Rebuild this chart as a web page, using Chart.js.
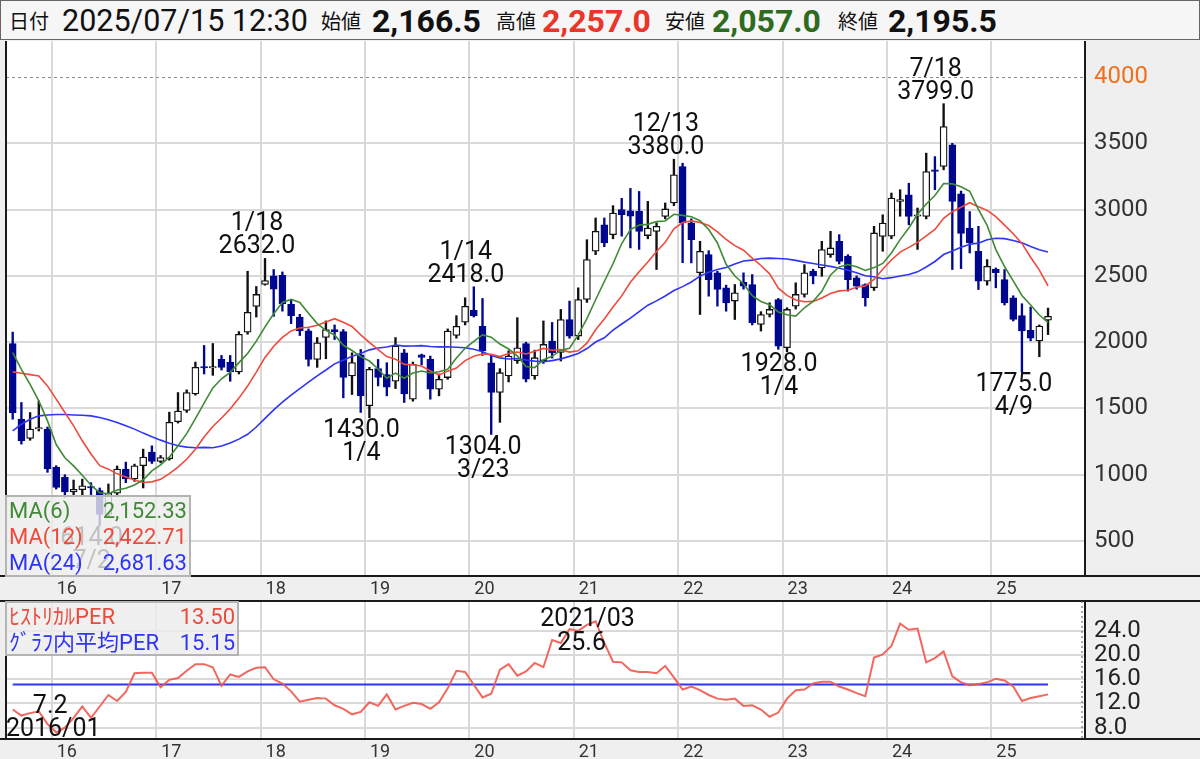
<!DOCTYPE html>
<html lang="ja"><head><meta charset="utf-8">
<script src="https://cdn.jsdelivr.net/npm/chart.js@4.4.1/dist/chart.umd.min.js"></script>
<style>
html,body{margin:0;padding:0;}
body{width:1200px;height:759px;position:relative;overflow:hidden;background:#efefef;font-family:Roboto,"Noto Sans CJK JP",sans-serif;color:#111;}
#hdr{position:absolute;left:0;top:0;width:1198px;height:38px;background:#f6f6f6;border:1px solid #666;}
#hdr span{position:absolute;top:1px;line-height:38px;white-space:nowrap;}
.lb{font-family:"Noto Sans CJK JP",sans-serif;font-size:20px;}
.nm{font-size:30.5px;}
.nb{font-size:32px;font-weight:bold;}
canvas{position:absolute;left:0;}
#main{top:40px;}
#sub{top:600px;}
.ann{position:absolute;width:160px;text-align:center;font-size:25px;line-height:23px;color:#111;white-space:nowrap;}
.lg{position:absolute;background:rgba(236,236,236,0.8);border:2px solid #b4b4b4;box-sizing:border-box;}
.row{position:absolute;left:0;right:0;height:27px;line-height:27px;font-size:22px;white-space:nowrap;}
.row .k{position:absolute;left:2px;}
.row .v{position:absolute;right:2px;}
</style></head>
<body>
<div id="hdr"></div>
<canvas id="main" width="1200" height="561"></canvas>
<canvas id="sub" width="1200" height="159"></canvas>
<script>
// ---- data (monthly candles, 2015/08 .. 2025/07) ----
const startYear = 2015, startMonth = 8;
const opens = [1989,1419,1274,1345,1344,1056,980,870,887,905,
 880,700,860,1043,968,1068,1170,1100,1120,1400,
 1485,1610,1810,1805,1870,1850,1775,2075,2270,2435,
 2500,2505,2285,2190,2085,1870,2035,2095,2080,1745,
 1905,1520,1800,1755,1705,1920,1570,1905,1870,1645,
 1733,2050,2150,2240,2120,1845,1620,1745,1860,1990,
 1745,1860,2009,1923,2171,2046,2322,2686,2886,2811,
 3000,2990,2987,2804,2836,2949,3050,3325,2900,2523,
 2661,2523,2410,2310,2452,2435,2134,2209,2322,1958,
 2272,2360,2535,2560,2661,2761,2648,2485,2435,2410,
 2798,2800,3062,3112,2950,2949,3300,3325,3488,3120,
 2861,2685,2460,2550,2472,2335,2200,2090,2009,2166.5];
const highs = [2076,1545,1469,1557,1360,1068,1000,960,967,940,
 900,930,1066,1095,1080,1193,1218,1145,1472,1620,
 1640,1850,1975,1990,1900,1900,2080,2535,2420,2632,
 2548,2530,2320,2210,2100,2035,2160,2130,2095,1920,
 1945,1810,1870,1845,2035,1945,1850,1910,1895,1760,
 2100,2200,2335,2418,2330,1900,1800,1935,2185,2000,
 1940,2160,2149,2247,2310,2410,2773,2937,2937,3030,
 3085,3160,3137,3062,2900,3050,3380,3350,2930,2761,
 2690,2535,2430,2435,2523,2510,2230,2297,2330,2260,
 2448,2585,2550,2761,2836,2811,2660,2500,2440,2874,
 2961,3125,3150,3199,3012,3426,3400,3799,3500,3140,
 2985,2874,2623,2560,2548,2350,2290,2265,2130,2257];
const lows = [1419,1231,1260,1330,1018,892,830,850,840,850,
 614,690,850,940,950,900,1085,1090,1110,1390,
 1470,1600,1760,1750,1790,1705,1760,2060,2190,2430,
 2195,2234,2140,2050,1820,1810,1875,2020,1580,1605,
 1470,1430,1670,1595,1650,1545,1555,1830,1570,1595,
 1720,2030,2130,2190,1900,1304,1395,1700,1840,1700,
 1720,1840,1880,1858,2030,2020,2300,2660,2720,2780,
 2800,2711,2700,2780,2548,2930,3030,2600,2598,2209,
 2347,2272,2234,2171,2400,2130,2084,2190,1946,1928,
 2250,2340,2440,2497,2640,2590,2385,2400,2272,2390,
 2686,2780,2950,2886,2700,2930,3150,3300,2548,2555,
 2673,2397,2430,2410,2280,2160,1775,2010,1890,2057];
const closes = [1469,1256,1344,1350,1043,905,870,890,917,900,
 700,860,1043,968,1068,1133,1100,1130,1396,1481,
 1620,1810,1805,1815,1810,1775,2060,2225,2360,2465,
 2400,2290,2200,2085,1870,1995,2095,2080,1735,1846,
 1595,1795,1735,1660,1970,1610,1833,1885,1645,1720,
 2084,2120,2270,2200,1935,1620,1770,1895,1958,1720,
 1883,1983,1921,2171,2046,2322,2623,2836,2749,2974,
 2962,2950,2836,2861,2874,3005,3263,2900,2773,2685,
 2472,2397,2297,2372,2422,2147,2209,2247,1970,2247,
 2360,2523,2500,2698,2711,2610,2472,2422,2335,2824,
 2899,3087,3075,2949,2955,3287,3288,3626,3062,2820,
 2749,2460,2573,2525,2297,2171,2085,2030,2121,2195.5];
// moving-average values before a full window exists
const ma6Head  = [1921,1795,1682,1557,1406];
const ma12Head = [1776,1765,1755,1745,1670,1570,1469,1369,1256,1156,1068];
const ma24Head = [1331,1381,1419,1444,1451,1454,1454,1451,1449,1444,1432,1414,1394,1369,1344,1314,1286,1261,1238,1218,1208,1203,1206];
const per = [11.0,10.0,10.4,10.7,8.6,7.2,8.0,9.6,11.5,9.6,
 11.5,13.4,12.4,13.9,17.0,17.1,17.1,14.7,15.9,16.2,
 17.4,18.5,18.5,18.0,14.9,16.8,16.4,17.3,17.9,18.0,
 16.0,15.3,14.0,12.3,12.6,12.9,12.8,11.7,11.1,10.2,
 10.6,12.2,11.6,13.5,11.0,11.6,12.1,11.9,11.1,12.2,
 14.5,17.4,17.2,15.1,13.0,13.6,17.6,18.5,16.6,17.3,
 18.7,18.0,22.5,22.0,24.3,24.0,25.0,25.6,22.0,18.9,
 18.8,17.5,17.2,17.2,17.0,18.2,16.3,14.3,14.8,14.2,
 13.4,12.8,12.6,12.8,11.6,11.7,11.0,9.8,10.5,12.8,
 14.2,14.3,15.3,15.6,15.6,14.8,14.3,13.7,13.2,19.6,
 20.1,21.5,25.2,24.2,24.4,18.8,19.5,20.6,16.5,15.5,
 15.0,15.2,15.5,16.1,15.8,14.8,12.4,12.9,13.2,13.5];
const perAvg = 15.15;
const yearLabels = ['16','17','18','19','20','21','22','23','24','25'];
const priceTicks = [500,1000,1500,2000,2500,3000,3500,4000];
const perTicks = [8,12,16,20,24];
const priceMarks = [
  {i:10, kind:'low', date:'7/2'},
  {i:29, kind:'high', date:'1/18'},
  {i:41, kind:'low', date:'1/4'},
  {i:53, kind:'high', date:'1/14'},
  {i:55, kind:'low', date:'3/23'},
  {i:76, kind:'high', date:'12/13'},
  {i:89, kind:'low', date:'1/4'},
  {i:107, kind:'high', date:'7/18'},
  {i:116, kind:'low', date:'4/9'}];
const perMarks = [{i:67, kind:'max', date:'2021/03'}, {i:5, kind:'min', date:'2016/01'}];
const maLegend = [['MA(6)','2,152.33'],['MA(12)','2,422.71'],['MA(24)','2,681.63']];
const perLegend = [['ﾋｽﾄﾘｶﾙPER','13.50'],['ｸﾞﾗﾌ内平均PER','15.15']];

// ---- derived ----
function movingAvg(n, head){
  return closes.map((c,i)=>{
    if (i < n-1) return head[i];
    let s=0; for(let k=i-n+1;k<=i;k++) s+=closes[k];
    return s/n;
  });
}
const ma6 = movingAvg(6, ma6Head), ma12 = movingAvg(12, ma12Head), ma24 = movingAvg(24, ma24Head);
const firstJan = (12 - startMonth + 1) % 12; // index of first January
const GREEN='#3f8a35', RED='#ee4a3c', BLUE='#2f35f5', NAVY='#00078f';
const isUp = i => closes[i] >= opens[i];
const fmt1 = v => v.toLocaleString('en-US',{minimumFractionDigits:1,maximumFractionDigits:1});

// header
const last = closes.length-1;
const hdrItems = [
  ['lb',8,'日付',null],['nm',61,'2025/07/15 12:30',null],
  ['lb',320,'始値',null],['nb',371,fmt1(opens[last]),'#111'],
  ['lb',495,'高値',null],['nb',541,fmt1(highs[last]),'#e8362a'],
  ['lb',664,'安値',null],['nb',711,fmt1(lows[last]),'#2e6b1e'],
  ['lb',837,'終値',null],['nb',887,fmt1(closes[last]),'#111']];
const hdr = document.getElementById('hdr');
hdrItems.forEach(([c,l,t,col])=>{const s=document.createElement('span');s.className=c;s.style.left=l+'px';s.textContent=t;if(col)s.style.color=col;hdr.appendChild(s);});

const xScaleBase = (h) => ({
  type:'linear', min:-0.77, max:123.25, offset:false,
  grid:{color:'#d9d9d9', lineWidth:2, drawTicks:false, offset:false},
  border:{display:false},
  afterBuildTicks: s => { s.ticks = yearLabels.map((_,k)=>({value:firstJan-0.5+12*k})); },
  afterFit: s => { s.height = h; s.paddingLeft = 0; s.paddingRight = 0; },
  ticks:{autoSkip:false, maxRotation:0, minRotation:0, padding:3, labelOffset:15, color:'#333',
         font:{family:'Roboto', size:18},
         callback:(v)=> yearLabels[Math.round((v-(firstJan-0.5))/12)]}
});

const mainFrame = {
  id:'mainFrame',
  beforeDraw(chart){const {ctx,chartArea:a,width,height}=chart;ctx.save();ctx.fillStyle='#efefef';ctx.fillRect(0,0,width,height);ctx.fillStyle='#fff';ctx.fillRect(a.left,a.top,a.right-a.left,a.bottom-a.top);ctx.restore();},
  beforeDatasetsDraw(chart){const {ctx,chartArea:a}=chart;const y=Math.round(chart.scales.y.getPixelForValue(4000))+0.5;ctx.save();ctx.strokeStyle='#8a8a8a';ctx.lineWidth=1;ctx.setLineDash([3,3]);ctx.beginPath();ctx.moveTo(a.left,y);ctx.lineTo(a.right,y);ctx.stroke();ctx.restore();},
  afterDraw(chart){const {ctx,chartArea:a,width}=chart;ctx.save();ctx.strokeStyle='#1a1a1a';ctx.lineWidth=2;ctx.beginPath();
    ctx.moveTo(a.left,a.top);ctx.lineTo(a.left,a.bottom);ctx.moveTo(0,a.bottom);ctx.lineTo(width,a.bottom);
    ctx.moveTo(a.right,a.top);ctx.lineTo(a.right,a.bottom);ctx.stroke();ctx.restore();}
};
const subFrame = {
  id:'subFrame',
  beforeDraw(chart){const {ctx,chartArea:a,width,height}=chart;ctx.save();ctx.fillStyle='#efefef';ctx.fillRect(0,0,width,height);ctx.fillStyle='#fff';ctx.fillRect(a.left,a.top,a.right-a.left,a.bottom-a.top);ctx.restore();},
  afterDraw(chart){const {ctx,chartArea:a,width}=chart;ctx.save();ctx.strokeStyle='#1a1a1a';ctx.lineWidth=2;ctx.beginPath();
    ctx.moveTo(0,a.top);ctx.lineTo(width,a.top);ctx.moveTo(0,a.bottom);ctx.lineTo(width,a.bottom);
    ctx.moveTo(a.left,a.top);ctx.lineTo(a.left,a.bottom);ctx.moveTo(a.right,a.top);ctx.lineTo(a.right,a.bottom);ctx.stroke();
    ctx.strokeStyle='#555';ctx.lineWidth=1;ctx.setLineDash([2,3]);ctx.beginPath();ctx.moveTo(a.right-3,a.top);ctx.lineTo(a.right-3,a.bottom);ctx.stroke();ctx.restore();}
};

const line = (arr,col) => ({type:'line', data:arr.map((v,i)=>({x:i,y:v})), borderColor:col, borderWidth:1.6, pointRadius:0, tension:0, order:0});
const yFit = s => { s.width = 115; s.paddingTop = 0; s.paddingBottom = 0; };

const mainChart = new Chart(document.getElementById('main'), {
  type:'bar',
  data:{datasets:[
    line(ma6,GREEN), line(ma12,RED), line(ma24,BLUE),
    {type:'bar', data:opens.map((o,i)=>({x:i,y:[o,closes[i]]})),
     backgroundColor:c=>isUp(c.dataIndex)?'#ffffff':NAVY, borderColor:c=>isUp(c.dataIndex)?'#111':NAVY,
     borderWidth:1.3, borderSkipped:false, barThickness:7, minBarLength:1.5, grouped:false, order:1},
    {type:'bar', data:lows.map((l,i)=>({x:i,y:[l,highs[i]]})),
     backgroundColor:c=>isUp(c.dataIndex)?'#111':NAVY, borderWidth:0, barThickness:1.7, grouped:false, order:2}
  ]},
  options:{responsive:false, animation:false, devicePixelRatio:1, events:[],
    layout:{padding:{left:6,top:1,right:0,bottom:0}},
    plugins:{legend:{display:false}, tooltip:{enabled:false}},
    scales:{
      x: xScaleBase(25),
      y:{type:'linear', position:'right', min:236, max:4272,
        afterBuildTicks: s => { s.ticks = priceTicks.map(v=>({value:v})); },
        afterFit: yFit,
        grid:{color:c=>(c.tick && c.tick.value===4000)?'rgba(0,0,0,0)':'#d9d9d9', lineWidth:2, drawTicks:false},
        border:{display:false},
        ticks:{padding:9, color:c=>(c.tick && c.tick.value===4000)?'#f0701e':'#333', font:{family:'Roboto', size:24}, callback:v=>String(v)}}
    }},
  plugins:[mainFrame]
});

const subChart = new Chart(document.getElementById('sub'), {
  type:'line',
  data:{datasets:[
    {data:per.map((v,i)=>({x:i,y:v})), borderColor:'rgba(240,88,76,0.9)', borderWidth:2, pointRadius:0, tension:0, order:0},
    {data:[{x:0,y:perAvg},{x:per.length-1,y:perAvg}], borderColor:'#2f35f5', borderWidth:2, pointRadius:0, order:1}
  ]},
  options:{responsive:false, animation:false, devicePixelRatio:1, events:[],
    layout:{padding:{left:6,top:1,right:0,bottom:0}},
    plugins:{legend:{display:false}, tooltip:{enabled:false}},
    scales:{
      x: xScaleBase(20),
      y:{type:'linear', position:'right', min:6.12, max:28.95,
        afterBuildTicks: s => { s.ticks = perTicks.map(v=>({value:v})); },
        afterFit: yFit,
        grid:{color:'#d9d9d9', lineWidth:2, drawTicks:false},
        border:{display:false},
        ticks:{padding:9, color:'#222', font:{family:'Roboto', size:24}, callback:v=>v.toFixed(1)}}
    }},
  plugins:[subFrame]
});

// ---- annotations (HTML text placed through the chart scales) ----
function addText(html, left, top, cls){const d=document.createElement('div');d.className=cls||'ann';d.innerHTML=html;d.style.left=left+'px';d.style.top=top+'px';document.body.appendChild(d);return d;}
const mainTop = 40, subTop = 600;
priceMarks.forEach(m=>{
  const x = mainChart.scales.x.getPixelForValue(m.i) - 8;
  if (m.kind==='high'){
    const y = mainTop + mainChart.scales.y.getPixelForValue(highs[m.i]);
    addText(m.date+'<br>'+highs[m.i].toFixed(1), x-80, y-48);
  } else {
    const y = mainTop + mainChart.scales.y.getPixelForValue(lows[m.i]);
    addText(lows[m.i].toFixed(1)+'<br>'+m.date, x-80, y-0.5);
  }
});
perMarks.forEach(m=>{
  const x = subChart.scales.x.getPixelForValue(m.i);
  const y = subTop + subChart.scales.y.getPixelForValue(per[m.i]);
  if (m.kind==='max'){
    addText(m.date, x-8-80, y-15.5);
    addText(per[m.i].toFixed(1), x-14-80, y+8.5);
  } else {
    addText(per[m.i].toFixed(1), x-6-80, y-39.5);
    addText(m.date, x-3-80, y-16.5);
  }
});
// legends
function legend(items, cols, left, top, w, h, rowTops){
  const box=document.createElement('div');box.className='lg';
  Object.assign(box.style,{left:left+'px',top:top+'px',width:w+'px',height:h+'px'});
  items.forEach((it,k)=>{const r=document.createElement('div');r.className='row';r.style.top=rowTops[k]+'px';r.style.color=cols[k];
    r.innerHTML='<span class="k"></span><span class="v"></span>';r.children[0].textContent=it[0];r.children[1].textContent=it[1];box.appendChild(r);});
  document.body.appendChild(box);
}
legend(maLegend,[GREEN,RED,BLUE],5,495,186,82,[0,26,52]);
legend(perLegend,['#ee4a3c','#2f35f5'],5,601,234,55,[0,26]);
</script>
</body></html>
